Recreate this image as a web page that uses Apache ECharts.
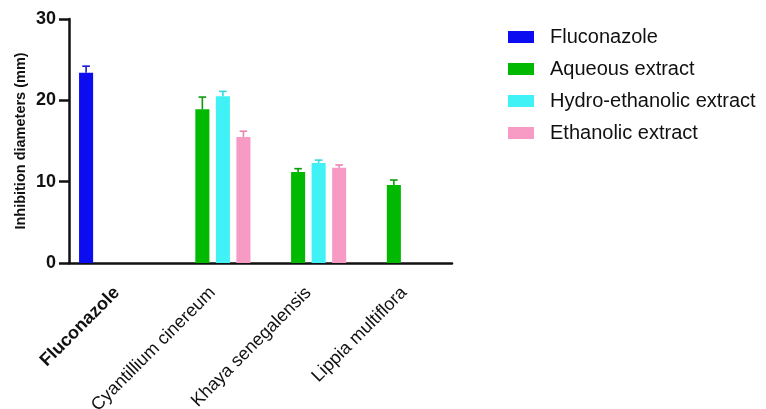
<!DOCTYPE html>
<html>
<head>
<meta charset="utf-8">
<script src="https://cdn.jsdelivr.net/npm/echarts@6/dist/echarts.min.js"></script>
<style>html,body{margin:0;padding:0;background:#fff;}#c{width:766px;height:409px;}</style>
</head>
<body>
<div id="c"></div>
<script>
var categories = ['Fluconazole', 'Cyantillium cinereum', 'Khaya senegalensis', 'Lippia multiflora'];
var seriesNames = ['Fluconazole', 'Aqueous extract', 'Hydro-ethanolic extract', 'Ethanolic extract'];
var fluconazole = [23.4, null, null, null];
var aqueous = [null, 18.9, 11.2, 9.6];
var hydroEthanolic = [null, 20.5, 12.3, null];
var ethanolic = [null, 15.5, 11.7, null];
var fluconazoleErr = [0.8, null, null, null];
var aqueousErr = [null, 1.5, 0.4, 0.6];
var hydroEthanolicErr = [null, 0.6, 0.35, null];
var ethanolicErr = [null, 0.7, 0.35, null];
var yTicks = [0, 10, 20, 30];

var colors = ['#0c0cf0', '#00b900', '#40f2f6', '#f79ac4'];
var errColors = ['#1a1ad8', '#0a9a0a', '#30d8e0', '#e884b2'];
var values = [fluconazole, aqueous, hydroEthanolic, ethanolic];
var errs = [fluconazoleErr, aqueousErr, hydroEthanolicErr, ethanolicErr];
var CAT_GAP = 0.21, BAR_GAP = 0.46;
var FONT = 'Liberation Sans, Arial, sans-serif';

var errData = [];
for (var s = 0; s < values.length; s++) {
  for (var c = 0; c < categories.length; c++) {
    if (values[s][c] != null && errs[s][c] != null) {
      errData.push([c, s, values[s][c], errs[s][c]]);
    }
  }
}

var series = values.map(function (vals, i) {
  return {
    name: seriesNames[i], type: 'bar', data: vals,
    barCategoryGap: (CAT_GAP * 100) + '%', barGap: (BAR_GAP * 100) + '%',
    itemStyle: { color: colors[i] }, z: 2
  };
});
series.push({
  type: 'custom', name: 'err', data: errData, z: 3,
  renderItem: function (params, api) {
    var cat = api.value(0), si = api.value(1), v = api.value(2), e = api.value(3);
    var catW = api.size([1, 0])[0];
    var band = catW * (1 - CAT_GAP);
    var n = values.length;
    var bw = band / (n + (n - 1) * BAR_GAP);
    var off = -band / 2 + bw / 2 + si * bw * (1 + BAR_GAP);
    var base = api.coord([cat, v]);
    var top = api.coord([cat, v + e]);
    var x = base[0] + off;
    var st = { stroke: errColors[si], lineWidth: 1.6 };
    return {
      type: 'group', children: [
        { type: 'line', shape: { x1: x, y1: base[1], x2: x, y2: top[1] }, style: st },
        { type: 'line', shape: { x1: x - 3.8, y1: top[1], x2: x + 3.8, y2: top[1] }, style: st }
      ]
    };
  }
});

var chart = echarts.init(document.getElementById('c'), null, { renderer: 'canvas' });
chart.setOption({
  animation: false,
  backgroundColor: '#fff',
  grid: { left: 69, right: 314, top: 19, bottom: 146, outerBoundsMode: 'none', containLabel: false },
  legend: {
    data: seriesNames, orient: 'vertical', left: 503, top: 22,
    itemWidth: 26, itemHeight: 12, itemGap: 12,
    icon: 'rect',
    textStyle: { fontFamily: FONT, fontSize: 20, color: '#111', lineHeight: 20, padding: [0, 0, 0, 11] }
  },
  xAxis: {
    type: 'category', data: categories,
    axisLine: { lineStyle: { color: '#111', width: 2.5 } },
    axisTick: { alignWithLabel: true, length: 9, lineStyle: { color: '#111', width: 2.5 } },
    axisLabel: {
      rotate: 45, margin: 27, fontFamily: FONT, fontSize: 18, color: '#111', interval: 0,
      formatter: function (v, i) { return i === 0 ? '{b|' + v + '}' : '{r|' + v + '}'; },
      rich: {
        b: { fontFamily: FONT, fontSize: 18, fontWeight: 'bold', color: '#111' },
        r: { fontFamily: FONT, fontSize: 18, color: '#111' }
      }
    }
  },
  yAxis: {
    type: 'value', min: yTicks[0], max: yTicks[yTicks.length - 1], interval: 10,
    name: 'Inhibition diameters (mm)', nameLocation: 'middle', nameGap: 41,
    nameTextStyle: { fontFamily: FONT, fontSize: 14.5, fontWeight: 'bold', color: '#111' },
    axisLine: { show: true, lineStyle: { color: '#111', width: 2.5 } },
    axisTick: { show: true, length: 10, lineStyle: { color: '#111', width: 2.5 } },
    splitLine: { show: false },
    axisLabel: { margin: 13, fontFamily: FONT, fontSize: 18, fontWeight: 'bold', color: '#111' }
  },
  series: series
});
</script>
</body>
</html>
